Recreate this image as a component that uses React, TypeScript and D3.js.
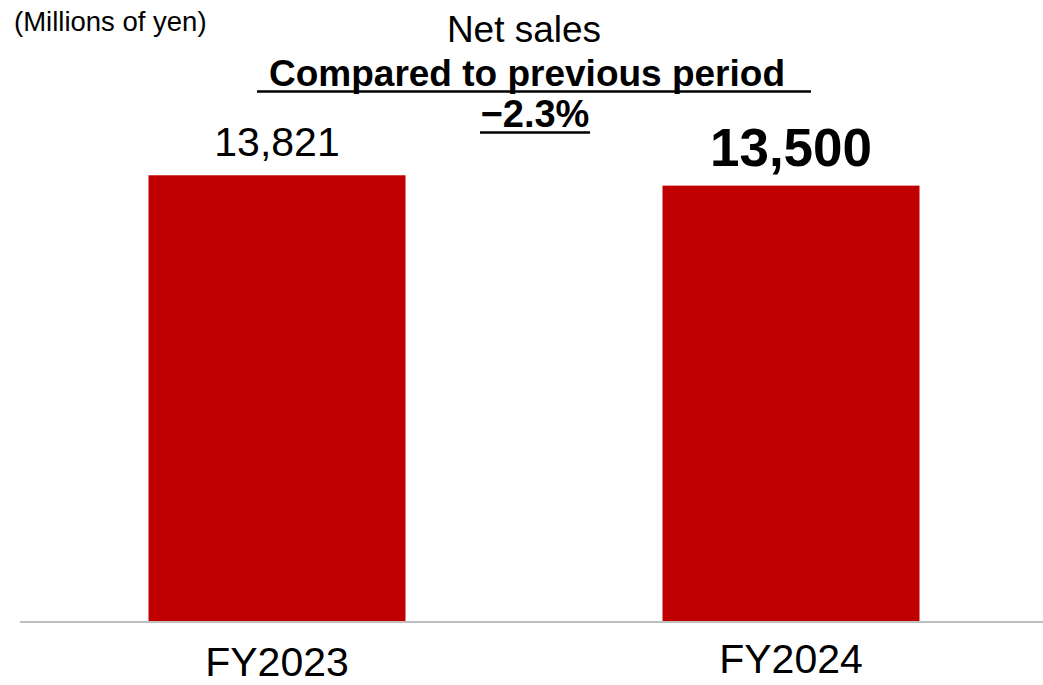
import * as d3 from "d3";

const categories = ["FY2023", "FY2024"];
const netSales = [13821, 13500];
const valueLabels = ["13,821", "13,500"];
const unitLabel = "(Millions of yen)";
const title = "Net sales";
const compareLabel = "Compared to previous period";
const changeLabel = "\u22122.3%";

const W = 1043;
const H = 685;
const FONT = "'Liberation Sans', Arial, Helvetica, sans-serif";

export default function App() {
  const x = d3.scaleBand<string>().domain(categories).range([20, 1048]).paddingInner(0.5).paddingOuter(0.25);
  const y = d3.scaleLinear().domain([0, 16000]).range([621, 105]);
  const baseY = y(0);

  return (
    <div style={{ position: "absolute", left: 0, top: 0 }}>
      <svg width={W} height={H} viewBox={`0 0 ${W} ${H}`} style={{ display: "block", fontFamily: FONT }}>
        <rect width={W} height={H} fill="#ffffff" />

        {/* bars */}
        {categories.map((c, i) => (
          <rect
            key={c}
            x={x(c)}
            y={y(netSales[i])}
            width={x.bandwidth()}
            height={baseY - y(netSales[i])}
            fill="#c00000"
          />
        ))}

        {/* baseline */}
        <line x1={20} x2={W} y1={baseY + 1} y2={baseY + 1} stroke="#bfbfbf" strokeWidth={2} />

        {/* value labels */}
        {categories.map((c, i) => (
          <text
            key={c + "v"}
            x={(x(c) ?? 0) + x.bandwidth() / 2}
            y={y(netSales[i]) - (i === 1 ? 20 : 19)}
            textAnchor="middle"
            fontSize={i === 1 ? 53 : 41}
            fontWeight={i === 1 ? "bold" : "normal"}
            fill="#000"
          >
            {valueLabels[i]}
          </text>
        ))}

        {/* category labels */}
        {categories.map((c, i) => (
          <text
            key={c + "c"}
            x={(x(c) ?? 0) + x.bandwidth() / 2}
            y={i === 0 ? 676 : 673}
            textAnchor="middle"
            fontSize={41}
            fill="#000"
          >
            {c}
          </text>
        ))}

        {/* header texts */}
        <text x={14} y={31} fontSize={27.5} fill="#000">{unitLabel}</text>
        <text x={524} y={42} textAnchor="middle" fontSize={37} fill="#000">{title}</text>
        <text x={527} y={86} textAnchor="middle" fontSize={37} fontWeight="bold" fill="#000">{compareLabel}</text>
        <line x1={257} x2={811} y1={91.5} y2={91.5} stroke="#000" strokeWidth={2.5} />
        <text x={535} y={127} textAnchor="middle" fontSize={38} fontWeight="bold" fill="#000">{changeLabel}</text>
        <line x1={480} x2={590} y1={132.5} y2={132.5} stroke="#000" strokeWidth={2.5} />
      </svg>
    </div>
  );
}
